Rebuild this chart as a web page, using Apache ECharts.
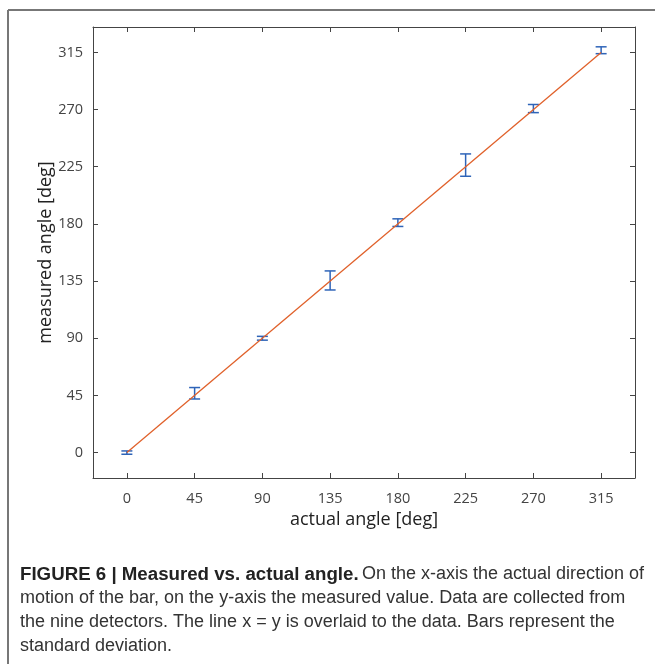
<!DOCTYPE html>
<html>
<head>
<meta charset="utf-8">
<script src="https://cdn.jsdelivr.net/npm/echarts@6/dist/echarts.min.js"></script>
<style>
  html, body { margin: 0; padding: 0; background: #fff; }
  #chart { width: 655px; height: 664px; }
</style>
</head>
<body>
<div id="chart"></div>
<script>
// actual angle (deg) of each test
const actualAngle = [0, 45, 90, 135, 180, 225, 270, 315];
// mean measured angle and its standard deviation
const measuredMean = [0, 46.7, 90, 135.5, 181, 226.3, 270.8, 316.7];
const measuredStd = [1.3, 4.5, 1.5, 7.5, 3, 8.8, 3.2, 2.7];
// x = y reference line end points
const identityX = [0, 315];
const tickValues = [0, 45, 90, 135, 180, 225, 270, 315];

const chart = echarts.init(document.getElementById('chart'), null, { renderer: 'canvas' });

const errData = actualAngle.map((x, i) => [x, measuredMean[i] - measuredStd[i], measuredMean[i] + measuredStd[i]]);
const lineData = identityX.map(v => [v, v]);

const axisCol = '#444';
const baseAxis = {
  type: 'value',
  axisLine: { show: true, onZero: false, lineStyle: { color: axisCol, width: 1 } },
  axisTick: { show: true, inside: true, length: 5, customValues: tickValues, lineStyle: { color: axisCol } },
  splitLine: { show: false },
};

const option = {
  backgroundColor: '#fff',
  animation: false,
  grid: { left: 93, right: 20, top: 27, bottom: 186 },
  xAxis: [
    Object.assign({}, baseAxis, {
      position: 'bottom',
      min: -22.5, max: 337.5,
      axisLabel: { customValues: tickValues, color: '#444', fontSize: 14.5, fontFamily: 'Open Sans', margin: 13 },
      name: 'actual angle [deg]',
      nameLocation: 'middle',
      nameGap: 33,
      nameMoveOverlap: false,
      nameTextStyle: { color: '#222', fontSize: 18, fontFamily: 'Open Sans' }
    }),
    Object.assign({}, baseAxis, {
      position: 'top',
      min: -22.5, max: 337.5,
      axisLabel: { show: false }
    })
  ],
  yAxis: [
    Object.assign({}, baseAxis, {
      position: 'left',
      min: -20, max: 335,
      axisLabel: { customValues: tickValues, color: '#444', fontSize: 14.5, fontFamily: 'Open Sans', margin: 10 },
      name: 'measured angle [deg]',
      nameLocation: 'middle',
      nameGap: 38,
      nameMoveOverlap: false,
      nameTextStyle: { color: '#222', fontSize: 18, fontFamily: 'Open Sans' }
    }),
    Object.assign({}, baseAxis, {
      position: 'right',
      min: -20, max: 335,
      axisLabel: { show: false }
    })
  ],
  series: [
    {
      type: 'line',
      data: lineData,
      symbol: 'none',
      lineStyle: { color: '#e0612b', width: 1.3 },
      z: 3
    },
    {
      type: 'custom',
      data: errData,
      z: 2,
      renderItem: function (params, api) {
        const x = api.value(0);
        const lo = api.coord([x, api.value(1)]);
        const hi = api.coord([x, api.value(2)]);
        const hw = 5.5;
        const style = { stroke: '#2e64b8', lineWidth: 1.5, fill: null };
        return {
          type: 'group',
          children: [
            { type: 'line', shape: { x1: lo[0], y1: lo[1], x2: hi[0], y2: hi[1] }, style: style },
            { type: 'line', shape: { x1: lo[0] - hw, y1: lo[1], x2: lo[0] + hw, y2: lo[1] }, style: style },
            { type: 'line', shape: { x1: hi[0] - hw, y1: hi[1], x2: hi[0] + hw, y2: hi[1] }, style: style }
          ]
        };
      }
    }
  ],
  graphic: [
    // figure frame (left and top edges)
    { type: 'line', shape: { x1: 8, y1: 10, x2: 8, y2: 664 }, style: { stroke: '#777', lineWidth: 2 } },
    { type: 'line', shape: { x1: 8, y1: 10, x2: 655, y2: 10 }, style: { stroke: '#777', lineWidth: 2 } },
    {
      type: 'text',
      left: 20,
      top: 565,
      style: {
        text: '{b|FIGURE 6 | Measured vs. actual angle.} {n|On the x-axis the actual direction of}\n' +
              '{n|motion of the bar, on the y-axis the measured value. Data are collected from}\n' +
              '{n|the nine detectors. The line x = y is overlaid to the data. Bars represent the}\n' +
              '{n|standard deviation.}',
        rich: {
          b: { fontFamily: 'Liberation Sans', fontWeight: 'bold', fontSize: 18.7, fill: '#222', lineHeight: 24 },
          n: { fontFamily: 'Liberation Sans', fontSize: 18, fill: '#333', lineHeight: 24 }
        }
      }
    }
  ]
};

chart.setOption(option);
</script>
</body>
</html>
